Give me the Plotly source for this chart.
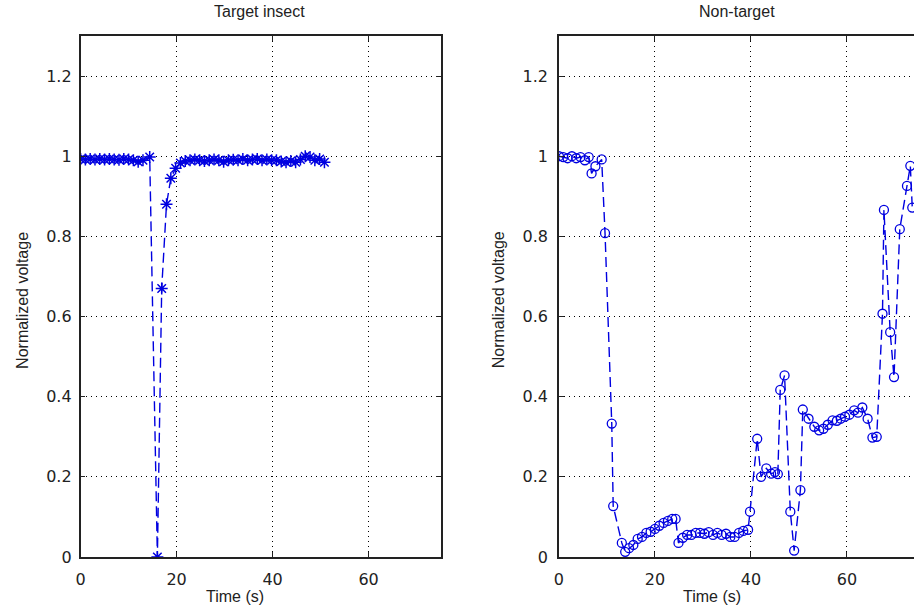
import plotly.graph_objects as go

# ---- data ----
target_t = [0, 1, 2, 3, 4, 5, 6, 7, 8, 9, 10, 11, 12, 13, 14.4,
            16.0, 16.9, 17.9, 18.8, 19.8, 20.8, 21.8, 22.8, 23.8, 24.8,
            25.8, 26.8, 27.8, 28.8, 29.8, 30.8, 31.8, 32.8, 33.8, 34.8,
            35.8, 36.8, 37.8, 38.8, 39.8, 40.8, 41.8, 42.8, 43.8, 44.8,
            45.8, 46.8, 47.8, 48.8, 49.8, 50.8]
target_v = [0.993, 0.992, 0.993, 0.992, 0.993, 0.992, 0.993, 0.992, 0.991, 0.993,
            0.992, 0.990, 0.986, 0.990, 0.998,
            0.0, 0.67, 0.88, 0.945, 0.97, 0.983, 0.988, 0.990, 0.992, 0.990,
            0.988, 0.990, 0.992, 0.990, 0.986, 0.990, 0.991, 0.990, 0.993, 0.990,
            0.992, 0.993, 0.990, 0.992, 0.990, 0.990, 0.987, 0.985, 0.988, 0.985,
            0.992, 1.000, 0.998, 0.990, 0.993, 0.985]

nontarget_t = [0.0, 0.9, 1.8, 2.7, 3.6, 4.5, 5.4, 6.2, 6.8, 7.6, 8.9, 9.6,
               11.0, 11.3, 13.1, 13.8, 14.6, 15.5, 16.4, 17.3, 18.2, 19.1,
               20.0, 20.9, 21.8, 22.7, 23.6, 24.3, 24.9, 25.8, 26.7, 27.6,
               28.5, 29.4, 30.3, 31.2, 32.1, 33.0, 33.9, 34.8, 35.7, 36.6,
               37.5, 38.4, 39.4, 39.8, 41.3, 42.1, 43.2, 44.2, 45.0, 45.6,
               46.1, 47.0, 48.2, 49.0, 50.3, 50.8, 52.0, 53.2, 54.2, 55.1,
               56.0, 57.0, 57.9, 58.7, 59.6, 60.5, 61.5, 62.3, 63.2, 64.3,
               65.3, 66.2, 67.4, 67.7, 69.0, 69.8, 71.0, 72.5, 73.2, 73.6]
nontarget_v = [1.0, 0.998, 0.995, 1.0, 0.995, 0.998, 0.99, 0.998, 0.957, 0.975, 0.992, 0.808,
               0.333, 0.127, 0.035, 0.013, 0.022, 0.03, 0.045, 0.05, 0.06, 0.063,
               0.07, 0.078, 0.085, 0.09, 0.095, 0.095, 0.035, 0.048, 0.055, 0.055,
               0.06, 0.06, 0.058, 0.062, 0.055, 0.06, 0.055, 0.058, 0.05, 0.05,
               0.06, 0.065, 0.068, 0.113, 0.295, 0.2, 0.221, 0.208, 0.212, 0.207,
               0.417, 0.453, 0.113, 0.016, 0.167, 0.368, 0.345, 0.325, 0.316, 0.32,
               0.33, 0.341, 0.34, 0.345, 0.35, 0.355, 0.366, 0.36, 0.373, 0.345,
               0.298, 0.3, 0.607, 0.866, 0.561, 0.449, 0.818, 0.926, 0.976, 0.872]

x_ticks = [0, 20, 40, 60]
y_ticks = [0, 0.2, 0.4, 0.6, 0.8, 1.0, 1.2]
y_tick_text = ["0", "0.2", "0.4", "0.6", "0.8", "1", "1.2"]
titles = ["Target insect", "Non-target"]
xlabel = "Time (s)"
ylabel = "Normalized voltage"

# ---- layout geometry ----
W, H = 914, 614
KY = 614 / 604.0   # observed vertical compression of the rendered page
BLUE = "#0000e0"
LABEL_FONT = "Liberation Sans, Arial, Helvetica, sans-serif"
TICK_FONT = "DejaVu Sans, Verdana, sans-serif"

def px_x(p):
    return p / W

def px_y(p):
    return 1 - (p * KY) / H

left_dom = [px_x(76), px_x(438)]
right_dom = [px_x(557), 1.0]
y_dom = [px_y(557), px_y(36)]
scale = (441 - 79) / 75.0
right_max = (W - 557) / scale

fig = go.Figure()
fig.add_trace(go.Scatter(
    x=target_t, y=target_v, mode="lines+markers",
    line=dict(color=BLUE, width=1.4, dash="10px,5px"),
    marker=dict(symbol="asterisk-open", size=10, color=BLUE,
                line=dict(color=BLUE, width=1.5)),
    xaxis="x", yaxis="y", showlegend=False))
fig.add_trace(go.Scatter(
    x=nontarget_t, y=nontarget_v, mode="lines+markers",
    line=dict(color=BLUE, width=1.4, dash="10px,5px"),
    marker=dict(symbol="circle-open", size=9, color=BLUE,
                line=dict(color=BLUE, width=1.3)),
    xaxis="x2", yaxis="y2", showlegend=False))

grid = dict(showgrid=True, gridcolor="black", gridwidth=1, griddash="1px,4px",
            zeroline=False, showline=True, linecolor="#222", linewidth=1.5,
            ticks="inside", ticklen=5, tickcolor="#222",
            tickfont=dict(family=TICK_FONT, size=16, color="#222"))

fig.update_layout(
    width=W, height=H, autosize=False,
    margin=dict(l=0, r=0, t=0, b=0),
    paper_bgcolor="white", plot_bgcolor="white",
    hovermode=False,
    xaxis=dict(domain=left_dom, range=[0, 75], tickvals=x_ticks, mirror="ticks",
               anchor="y", ticklabelstandoff=7, **grid),
    yaxis=dict(domain=y_dom, range=[0, 1.3], tickvals=y_ticks, ticktext=y_tick_text,
               mirror="ticks", anchor="x", ticklabelstandoff=4, **grid),
    xaxis2=dict(domain=right_dom, range=[0, right_max], tickvals=x_ticks, mirror="ticks",
                anchor="y2", ticklabelstandoff=7, **grid),
    yaxis2=dict(domain=y_dom, range=[0, 1.3], tickvals=y_ticks, ticktext=y_tick_text,
                mirror=False, anchor="x2", ticklabelstandoff=6, **grid),
)

annots = [
    (256, 12, titles[0], 0),
    (736, 12, titles[1], 0),
    (231, 597, xlabel, 0),
    (711, 597, xlabel, 0),
    (18, 300, ylabel, -90),
    (497, 300, ylabel, -90),
]
for x, y, t, ang in annots:
    fig.add_annotation(x=px_x(x), y=px_y(y), xref="paper", yref="paper",
                       text=t, showarrow=False, textangle=ang,
                       xanchor="center", yanchor="middle",
                       font=dict(family=LABEL_FONT, size=16, color="#222"))

post = (
    "var s='margin:0;padding:0;overflow:hidden;width:914px;height:614px;';"
    "document.documentElement.setAttribute('style', s);"
    "document.body.setAttribute('style', s);"
)
fig.write_html("out.html", config={"displayModeBar": False, "responsive": False},
               post_script=post)
